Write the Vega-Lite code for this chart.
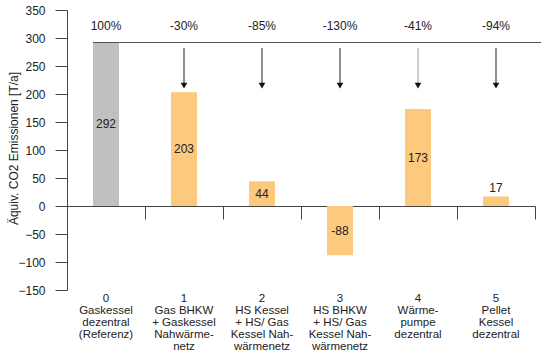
{
  "$schema": "https://vega.github.io/schema/vega-lite/v6.json",
  "width": 468,
  "height": 280,
  "autosize": "none",
  "padding": {"left": 67, "top": 10, "right": 6, "bottom": 61},
  "config": {
    "view": {"stroke": null},
    "font": "Liberation Sans",
    "axis": {"grid": false, "labelFont": "Liberation Sans", "titleFont": "Liberation Sans", "labelColor": "#222", "titleColor": "#222", "domainColor": "#444", "tickColor": "#444"}
  },
  "data": {
    "values": [
      {"i": 0, "cat": "0|Gaskessel|dezentral|(Referenz)", "value": 292, "pct": "100%"},
      {"i": 1, "cat": "1|Gas BHKW|+ Gaskessel|Nahwärme-|netz", "value": 203, "pct": "-30%"},
      {"i": 2, "cat": "2|HS Kessel|+ HS/ Gas|Kessel Nah-|wärmenetz", "value": 44, "pct": "-85%"},
      {"i": 3, "cat": "3|HS BHKW|+ HS/ Gas|Kessel Nah-|wärmenetz", "value": -88, "pct": "-130%"},
      {"i": 4, "cat": "4|Wärme-|pumpe|dezentral", "value": 173, "pct": "-41%"},
      {"i": 5, "cat": "5|Pellet|Kessel|dezentral", "value": 17, "pct": "-94%"}
    ]
  },
  "transform": [
    {"calculate": "datum.value > 0 && datum.value < 30 ? datum.value + 15 : datum.value / 2", "as": "labelY"}
  ],
  "layer": [
    {
      "mark": {"type": "bar", "size": 26},
      "encoding": {
        "x": {"field": "cat", "type": "nominal", "sort": null,
          "scale": {"paddingInner": 0, "paddingOuter": 0},
          "axis": {"orient": "bottom", "title": null, "domain": false, "ticks": false, "labelAngle": 0,
            "labelExpr": "split(datum.label, '|')", "labelFontSize": 11.5, "labelLineHeight": 12,
            "labelPadding": 2, "labelBaseline": "top", "labelLimit": 200}},
        "y": {"field": "value", "type": "quantitative",
          "title": "Äquiv. CO2 Emissionen [T/a]",
          "scale": {"domain": [-150, 350], "nice": false, "zero": false},
          "axis": {"values": [-150, -100, -50, 0, 50, 100, 150, 200, 250, 300, 350], "tickCount": 11,
            "labelOverlap": false, "titleFontSize": 12, "titleFontWeight": "normal",
            "labelFontSize": 12, "tickSize": 12, "labelPadding": 10,
            "titleX": -47, "titleY": 138, "titleBaseline": "bottom", "titleAngle": -90, "titleAlign": "center"}},
        "color": {"condition": {"test": "datum.i == 0", "value": "#c0c0c0"}, "value": "#fdc97d"}
      }
    },
    {
      "mark": {"type": "text", "fontSize": 12, "color": "#222", "baseline": "middle"},
      "encoding": {
        "x": {"field": "cat", "type": "nominal", "sort": null,
          "axis": {"orient": "bottom", "title": null, "offset": -84, "labels": false, "domain": true,
            "ticks": true, "bandPosition": 1, "tickSize": 13, "domainWidth": 1.2}},
        "y": {"field": "labelY", "type": "quantitative", "title": "Äquiv. CO2 Emissionen [T/a]"},
        "text": {"field": "value"}
      }
    },
    {
      "mark": {"type": "text", "fontSize": 12, "color": "#222", "baseline": "middle"},
      "encoding": {
        "x": {"field": "cat", "type": "nominal", "sort": null, "axis": null},
        "y": {"datum": 321, "title": "Äquiv. CO2 Emissionen [T/a]"},
        "text": {"field": "pct"}
      }
    },
    {
      "mark": {"type": "rule", "color": "#555", "strokeWidth": 1.2, "xOffset": -13, "x2Offset": 45},
      "encoding": {
        "x": {"datum": "0|Gaskessel|dezentral|(Referenz)", "axis": null},
        "x2": {"datum": "5|Pellet|Kessel|dezentral"},
        "y": {"datum": 292, "title": "Äquiv. CO2 Emissionen [T/a]"}
      }
    },
    {
      "transform": [{"filter": "datum.i > 0"}],
      "mark": {"type": "rule", "strokeWidth": 1.2},
      "encoding": {
        "x": {"field": "cat", "type": "nominal", "sort": null, "axis": null},
        "y": {"datum": 282, "title": "Äquiv. CO2 Emissionen [T/a]"},
        "y2": {"datum": 214},
        "color": {"condition": {"test": "datum.i == 4", "value": "#aaaaaa"}, "value": "#444444"}
      }
    },
    {
      "transform": [{"filter": "datum.i > 0"}],
      "mark": {"type": "point", "shape": "triangle-down", "filled": true, "size": 45, "color": "#111", "opacity": 1},
      "encoding": {
        "x": {"field": "cat", "type": "nominal", "sort": null, "axis": null},
        "y": {"datum": 215, "title": "Äquiv. CO2 Emissionen [T/a]"}
      }
    }
  ],
  "resolve": {"axis": {"x": "independent"}}
}
